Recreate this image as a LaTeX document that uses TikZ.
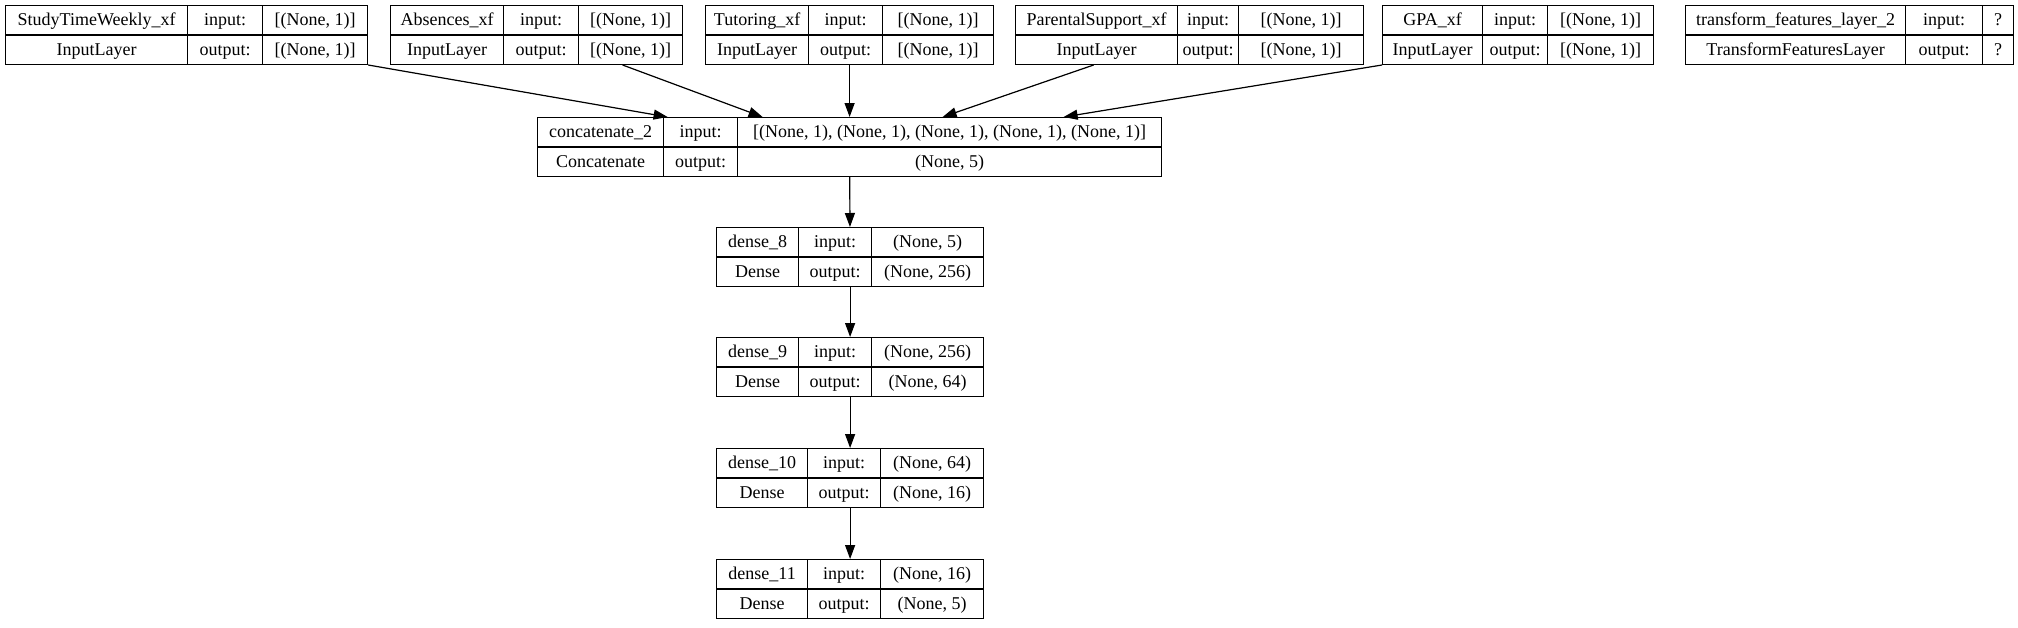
\documentclass[tikz,border=0pt]{standalone}
\usepackage{fontspec}
\setmainfont{Liberation Serif}
\usepackage{array}
\usetikzlibrary{arrows.meta}

\setlength{\tabcolsep}{0pt}
\setlength{\arrayrulewidth}{0.6pt}
\renewcommand{\arraystretch}{1.2818}

\tikzset{
    layer/.style={inner sep=0pt, outer sep=0pt, anchor=north west, font=\fontsize{9}{11}\selectfont},
    flow/.style={-{Triangle[length=7pt, width=5pt]}, line width=0.6pt, draw=black, fill=black},
}

\begin{document}
\begin{tikzpicture}[x=0.5pt, y=-0.5pt]
        \fill[white] (0, 0) rectangle (2018, 627);
        \useasboundingbox (0, 0) rectangle (2018, 627);

        % input layers
        \node (study) at (5, 5)[layer] {\begin{tabular}{|w{c}{90.4pt}|w{c}{36.9pt}|w{c}{51.9pt}|}\hline
            StudyTimeWeekly\_xf & input: & [(None, 1)] \\ \hline
            InputLayer & output: & [(None, 1)] \\ \hline
        \end{tabular}};

        \node (absences) at (390, 5)[layer] {\begin{tabular}{|w{c}{55.9pt}|w{c}{36.9pt}|w{c}{51.4pt}|}\hline
            Absences\_xf & input: & [(None, 1)] \\ \hline
            InputLayer & output: & [(None, 1)] \\ \hline
        \end{tabular}};

        \node (tutoring) at (705, 5)[layer] {\begin{tabular}{|w{c}{50.9pt}|w{c}{36.4pt}|w{c}{54.9pt}|}\hline
            Tutoring\_xf & input: & [(None, 1)] \\ \hline
            InputLayer & output: & [(None, 1)] \\ \hline
        \end{tabular}};

        \node (parental) at (1015, 5)[layer] {\begin{tabular}{|w{c}{80.4pt}|w{c}{29.9pt}|w{c}{61.9pt}|}\hline
            ParentalSupport\_xf & input: & [(None, 1)] \\ \hline
            InputLayer & output: & [(None, 1)] \\ \hline
        \end{tabular}};

        \node (gpa) at (1382, 5)[layer] {\begin{tabular}{|w{c}{49.4pt}|w{c}{31.9pt}|w{c}{52.4pt}|}\hline
            GPA\_xf & input: & [(None, 1)] \\ \hline
            InputLayer & output: & [(None, 1)] \\ \hline
        \end{tabular}};

        \node (transform) at (1685, 5)[layer] {\begin{tabular}{|w{c}{109.4pt}|w{c}{37.9pt}|w{c}{14.9pt}|}\hline
            transform\_features\_layer\_2 & input: & ? \\ \hline
            TransformFeaturesLayer & output: & ? \\ \hline
        \end{tabular}};

        % merge and dense stack
        \node (concat) at (537, 117)[layer] {\begin{tabular}{|w{c}{62.4pt}|w{c}{36.4pt}|w{c}{211.4pt}|}\hline
            concatenate\_2 & input: & [(None, 1), (None, 1), (None, 1), (None, 1), (None, 1)] \\ \hline
            Concatenate & output: & (None, 5) \\ \hline
        \end{tabular}};

        \node (dense8) at (716, 227)[layer] {\begin{tabular}{|w{c}{40.4pt}|w{c}{35.9pt}|w{c}{55.4pt}|}\hline
            dense\_8 & input: & (None, 5) \\ \hline
            Dense & output: & (None, 256) \\ \hline
        \end{tabular}};

        \node (dense9) at (716, 337)[layer] {\begin{tabular}{|w{c}{40.4pt}|w{c}{35.9pt}|w{c}{55.4pt}|}\hline
            dense\_9 & input: & (None, 256) \\ \hline
            Dense & output: & (None, 64) \\ \hline
        \end{tabular}};

        \node (dense10) at (716, 448)[layer] {\begin{tabular}{|w{c}{44.9pt}|w{c}{35.9pt}|w{c}{50.9pt}|}\hline
            dense\_10 & input: & (None, 64) \\ \hline
            Dense & output: & (None, 16) \\ \hline
        \end{tabular}};

        \node (dense11) at (716, 559)[layer] {\begin{tabular}{|w{c}{44.9pt}|w{c}{35.9pt}|w{c}{50.9pt}|}\hline
            dense\_11 & input: & (None, 16) \\ \hline
            Dense & output: & (None, 5) \\ \hline
        \end{tabular}};

        \draw[flow] (study.south east) -- ([xshift=-91pt]concat.north);
        \draw[flow] ([xshift=43pt]absences.south) -- ([xshift=-43.5pt]concat.north);
        \draw[flow] (tutoring.south) -- (concat.north);
        \draw[flow] ([xshift=-48pt]parental.south) -- ([xshift=46.5pt]concat.north);
        \draw[flow] (gpa.south west) -- ([xshift=107pt]concat.north);

        \draw[flow] (concat) -- (dense8);
        \draw[flow] (dense8) -- (dense9);
        \draw[flow] (dense9) -- (dense10);
        \draw[flow] (dense10) -- (dense11);
    \end{tikzpicture}
\end{document}
